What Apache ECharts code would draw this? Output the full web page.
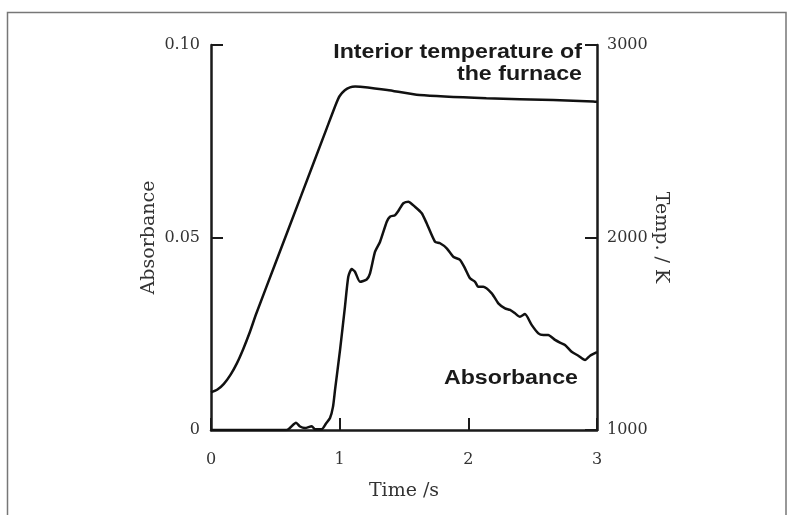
<!DOCTYPE html>
<html>
<head>
<meta charset="utf-8">
<script src="https://cdn.jsdelivr.net/npm/echarts@6/dist/echarts.min.js"></script>
<style>
  html, body { margin: 0; padding: 0; background: #fff; }
  #chart { width: 787px; height: 515px; }
</style>
</head>
<body>
<div id="chart"></div>
<script>
// furnace temperature (K) vs time (s)
const tempTime = [0, 0.05, 0.1, 0.15, 0.2, 0.25, 0.3, 0.35, 0.5, 0.7, 0.9, 0.97, 1.0, 1.04, 1.08, 1.12, 1.16, 1.37, 1.62, 2.14, 2.66, 2.97, 3.0]
const tempK = [1195, 1210, 1240, 1285, 1345, 1420, 1505, 1601, 1865, 2216, 2568, 2691, 2735, 2765, 2780, 2784, 2783, 2766, 2740, 2723, 2714, 2706, 2705]

// absorbance vs time (s)
const absTime = [0, 0.17, 0.4, 0.588, 0.661, 0.692, 0.731, 0.783, 0.808, 0.86, 0.894, 0.925, 0.948, 0.964, 1.003, 1.041, 1.067, 1.093, 1.119, 1.158, 1.21, 1.236, 1.275, 1.314, 1.366, 1.391, 1.43, 1.456, 1.495, 1.533, 1.585, 1.638, 1.676, 1.741, 1.78, 1.832, 1.883, 1.935, 1.974, 2.013, 2.052, 2.077, 2.116, 2.182, 2.233, 2.285, 2.324, 2.363, 2.401, 2.44, 2.492, 2.544, 2.583, 2.621, 2.674, 2.712, 2.751, 2.803, 2.855, 2.907, 2.946, 3.0]
const absorbance = [0, 0, 0, 0, 0.0019, 0.0009, 0.0005, 0.001, 0.0002, 0.0002, 0.0017, 0.0031, 0.006, 0.0104, 0.0208, 0.032, 0.0398, 0.0418, 0.0411, 0.0385, 0.0391, 0.0407, 0.0463, 0.0489, 0.0541, 0.0554, 0.0558, 0.0569, 0.0589, 0.0593, 0.058, 0.0563, 0.0537, 0.0489, 0.0485, 0.0472, 0.045, 0.0442, 0.042, 0.0394, 0.0385, 0.0372, 0.0372, 0.0355, 0.0329, 0.0316, 0.0312, 0.0303, 0.0294, 0.0301, 0.0273, 0.0251, 0.0247, 0.0247, 0.0234, 0.0227, 0.0221, 0.0203, 0.0193, 0.0182, 0.0193, 0.0202]

const xTicks = [0, 1, 2, 3]
const absTicks = ['0', '0.05', '0.10']
const tempTicks = [1000, 2000, 3000]

const serif = '"DejaVu Serif", "Liberation Serif", serif'
const boldSans = 'bold 20px "Liberation Sans", Arial, sans-serif'
const axisColor = '#1a1a1a'
const labelStyle = { color: '#333', fontFamily: serif, fontSize: 16 }
const nameStyle = { color: '#333', fontFamily: serif, fontSize: 19 }
const tickStyle = { show: true, inside: true, length: 12, lineStyle: { color: axisColor, width: 2 } }
const lineAxis = { show: true, lineStyle: { color: axisColor, width: 2.5 } }

const myChart = echarts.init(document.getElementById('chart'))
const option = {
  animation: false,
  backgroundColor: '#fff',
  grid: { left: 211, right: 190, top: 45, bottom: 85 },
  xAxis: {
    type: 'value',
    min: xTicks[0],
    max: xTicks[xTicks.length - 1],
    interval: 1,
    name: 'Time /s',
    nameLocation: 'middle',
    nameGap: 52,
    nameTextStyle: nameStyle,
    axisLine: lineAxis,
    axisTick: tickStyle,
    axisLabel: { ...labelStyle, margin: 22 },
    splitLine: { show: false }
  },
  yAxis: [
    {
      type: 'value',
      position: 'left',
      min: 0,
      max: 0.1,
      interval: 0.05,
      name: 'Absorbance',
      nameLocation: 'middle',
      nameRotate: 90,
      nameGap: 52,
      nameTextStyle: nameStyle,
      axisLine: lineAxis,
      axisTick: tickStyle,
      axisLabel: { ...labelStyle, margin: 11, formatter: (v) => absTicks[Math.round(v / 0.05)] },
      splitLine: { show: false }
    },
    {
      type: 'value',
      position: 'right',
      min: tempTicks[0],
      max: tempTicks[tempTicks.length - 1],
      interval: 1000,
      name: 'Temp. / K',
      nameLocation: 'middle',
      nameRotate: -90,
      nameGap: 54,
      nameTextStyle: nameStyle,
      axisLine: lineAxis,
      axisTick: tickStyle,
      axisLabel: { ...labelStyle, margin: 10, formatter: (v) => String(v) },
      splitLine: { show: false }
    }
  ],
  series: [
    {
      name: 'Temperature',
      type: 'line',
      yAxisIndex: 1,
      smooth: 0.2,
      showSymbol: false,
      lineStyle: { color: '#111', width: 2.5 },
      data: tempTime.map((t, i) => [t, tempK[i]])
    },
    {
      name: 'Absorbance',
      type: 'line',
      yAxisIndex: 0,
      smooth: 0.2,
      showSymbol: false,
      lineStyle: { color: '#111', width: 2.5 },
      data: absTime.map((t, i) => [t, absorbance[i]])
    }
  ],
  graphic: [
    {
      type: 'rect',
      silent: true,
      shape: { x: 7.5, y: 12.5, width: 778.5, height: 600 },
      style: { fill: 'none', stroke: '#777', lineWidth: 1.5 }
    },
    {
      type: 'text',
      x: 582,
      y: 41,
      scaleX: 1.16,
      style: {
        x: 0,
        y: 0,
        text: 'Interior temperature of\nthe furnace',
        align: 'right',
        verticalAlign: 'top',
        lineHeight: 22,
        fill: '#1a1a1a',
        font: boldSans
      }
    },
    {
      type: 'text',
      x: 578,
      y: 368,
      scaleX: 1.16,
      style: {
        x: 0,
        y: 0,
        text: 'Absorbance',
        align: 'right',
        verticalAlign: 'top',
        fill: '#1a1a1a',
        font: boldSans
      }
    }
  ]
}
myChart.setOption(option)
</script>
</body>
</html>
